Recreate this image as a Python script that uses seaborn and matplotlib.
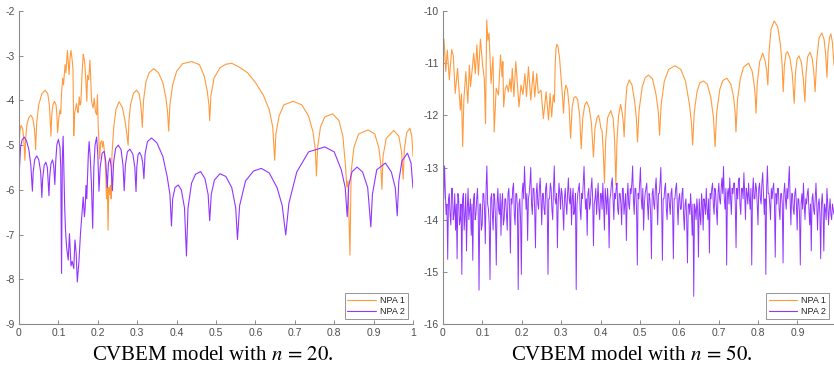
import numpy as np
import pandas as pd
import matplotlib
matplotlib.use("Agg")
import matplotlib.pyplot as plt
import seaborn as sns

sns.set_theme(style="white")
plt.rcParams["font.family"] = ["Liberation Sans", "DejaVu Sans"]
plt.rcParams["mathtext.fontset"] = "stix"

# ---------------- data: n = 20 ----------------
n20_npa1_x = [0.000, 0.002, 0.005, 0.009, 0.012, 0.015, 0.017, 0.020, 0.025, 0.030, 0.035, 0.039, 0.041, 0.042,
              0.045, 0.050, 0.058, 0.066, 0.073, 0.077, 0.079, 0.081, 0.083, 0.086, 0.090, 0.094, 0.096, 0.098,
              0.101, 0.104, 0.106, 0.108, 0.111, 0.113, 0.117, 0.119, 0.123, 0.125, 0.127, 0.130, 0.132, 0.135,
              0.137, 0.139, 0.141, 0.143, 0.146, 0.148, 0.150, 0.153, 0.155, 0.157, 0.160, 0.163, 0.165, 0.167,
              0.170, 0.172, 0.174, 0.177, 0.180, 0.182, 0.184, 0.186, 0.188, 0.191, 0.194, 0.197, 0.199, 0.201,
              0.205, 0.207, 0.210, 0.212, 0.214, 0.217, 0.220, 0.222, 0.224, 0.226, 0.228, 0.230, 0.232, 0.234,
              0.236, 0.240, 0.246, 0.254, 0.262, 0.268, 0.273, 0.277,
              0.279, 0.283, 0.290, 0.298, 0.305, 0.309, 0.311, 0.313,
              0.316, 0.322, 0.330, 0.342, 0.354, 0.365, 0.373, 0.377, 0.380,
              0.383, 0.390, 0.400, 0.415, 0.438, 0.458, 0.470, 0.478, 0.482, 0.484,
              0.487, 0.495, 0.510, 0.525, 0.540, 0.560, 0.580, 0.600, 0.620, 0.635, 0.644, 0.649,
              0.652, 0.660, 0.672, 0.696, 0.718, 0.735, 0.746, 0.752, 0.755,
              0.758, 0.765, 0.776, 0.796, 0.812, 0.822, 0.829, 0.832, 0.835, 0.840,
              0.843, 0.850, 0.862, 0.886, 0.903, 0.913, 0.918, 0.921,
              0.924, 0.932, 0.951, 0.964, 0.971, 0.975,
              0.978, 0.984, 0.992, 0.997, 1.000]
n20_npa1_y = [-5.10, -4.70, -4.56, -4.62, -4.85, -5.34, -4.85, -4.55, -4.38, -4.33, -4.40, -4.62, -4.85, -5.10,
              -4.50, -4.10, -3.85, -3.77, -3.85, -4.10, -4.40, -4.80, -4.35, -4.10, -4.02, -4.10, -4.30, -4.72,
              -4.40, -4.21, -4.30, -3.83, -3.50, -3.65, -3.20, -3.38, -2.88, -3.15, -3.42, -3.00, -2.88, -3.10,
              -3.30, -4.79, -4.30, -4.20, -4.07, -4.20, -4.27, -3.92, -4.10, -4.05, -3.40, -2.97, -3.05, -3.17,
              -3.60, -4.02, -3.44, -3.54, -3.10, -3.50, -4.00, -4.10, -4.17, -3.95, -4.25, -4.32, -3.87, -4.58,
              -5.31, -4.95, -4.90, -5.05, -4.92, -5.15, -5.60, -6.20, -5.80, -6.90, -5.95, -6.10, -5.90, -6.20,
              -5.20, -4.65, -4.20, -4.03, -4.15, -4.40, -4.70, -5.00,
              -4.45, -4.10, -3.85, -3.77, -3.85, -4.10, -4.30, -4.60,
              -4.00, -3.60, -3.38, -3.29, -3.38, -3.60, -3.95, -4.25, -4.69,
              -4.10, -3.65, -3.35, -3.18, -3.13, -3.20, -3.45, -3.80, -4.10, -4.45,
              -3.90, -3.50, -3.27, -3.19, -3.17, -3.26, -3.38, -3.60, -3.88, -4.20, -4.60, -5.34,
              -4.75, -4.35, -4.10, -4.02, -4.10, -4.35, -4.70, -5.10, -5.69,
              -5.05, -4.60, -4.37, -4.30, -4.45, -4.80, -5.50, -5.93, -5.80, -7.46,
              -5.60, -5.05, -4.75, -4.66, -4.75, -5.05, -5.40, -5.99,
              -5.25, -4.85, -4.67, -4.80, -5.15, -5.76,
              -5.10, -4.72, -4.62, -4.80, -5.25]

n20_npa2_x = [0.000, 0.004, 0.008, 0.0135, 0.019, 0.025, 0.030, 0.034,
              0.036, 0.040, 0.045, 0.050, 0.055, 0.058,
              0.060, 0.064, 0.068, 0.072, 0.076,
              0.078, 0.081, 0.085, 0.088, 0.091,
              0.093, 0.096, 0.100, 0.104, 0.106, 0.108,
              0.110, 0.112, 0.114, 0.116, 0.118, 0.121, 0.125, 0.128, 0.132, 0.135, 0.139, 0.142, 0.145, 0.148,
              0.152, 0.156, 0.160, 0.163, 0.166, 0.168, 0.170, 0.172, 0.174, 0.176, 0.178, 0.181, 0.184, 0.187,
              0.190, 0.193, 0.197, 0.200, 0.203,
              0.206, 0.211, 0.216, 0.220, 0.224, 0.227, 0.231, 0.234, 0.237,
              0.240, 0.245, 0.252, 0.259, 0.264, 0.267,
              0.270, 0.275, 0.2815, 0.289, 0.294, 0.297,
              0.299, 0.302, 0.306, 0.311, 0.314, 0.317,
              0.320, 0.326, 0.3365, 0.350, 0.365, 0.376, 0.383, 0.387,
              0.390, 0.396, 0.404, 0.412, 0.420, 0.425,
              0.429, 0.438, 0.448, 0.461, 0.472, 0.480, 0.484,
              0.488, 0.496, 0.510, 0.525, 0.540, 0.550, 0.5545,
              0.560, 0.575, 0.595, 0.615, 0.635, 0.655, 0.668, 0.677,
              0.685, 0.705, 0.735, 0.776, 0.800, 0.818, 0.828, 0.833,
              0.837, 0.845, 0.858, 0.872, 0.885, 0.893,
              0.897, 0.908, 0.930, 0.945, 0.955, 0.960,
              0.964, 0.972, 0.986, 0.995, 1.000]
n20_npa2_y = [-5.70, -5.05, -4.88, -4.82, -4.90, -5.10, -5.45, -6.03,
              -5.60, -5.32, -5.24, -5.32, -5.60, -6.17,
              -5.75, -5.45, -5.38, -5.50, -6.13,
              -5.70, -5.42, -5.33, -5.45, -5.88,
              -5.40, -5.00, -4.87, -5.05, -5.50, -7.87,
              -5.30, -4.80, -5.60, -6.40, -6.90, -7.30, -7.57, -6.98, -7.70, -7.60, -7.76, -7.12, -7.40, -8.06,
              -7.62, -6.98, -6.50, -6.16, -6.60, -6.40, -5.90, -6.20, -5.72, -5.20, -4.92, -5.30, -5.90, -6.86,
              -5.50, -5.00, -4.82, -5.20, -6.03,
              -5.50, -5.18, -5.14, -5.35, -5.95, -5.40, -5.29, -5.50, -6.02,
              -5.40, -5.08, -5.00, -5.10, -5.45, -6.02,
              -5.45, -5.15, -5.09, -5.20, -5.50, -6.04,
              -5.50, -5.22, -5.16, -5.25, -5.40, -5.75,
              -5.20, -4.92, -4.84, -4.95, -5.25, -5.70, -6.10, -6.81,
              -6.20, -5.95, -5.89, -6.00, -6.40, -7.48,
              -6.40, -5.85, -5.65, -5.59, -5.75, -6.10, -6.69,
              -6.10, -5.78, -5.64, -5.70, -5.95, -6.40, -7.11,
              -6.35, -5.80, -5.58, -5.52, -5.62, -5.95, -6.35, -7.01,
              -6.30, -5.60, -5.15, -5.04, -5.15, -5.55, -5.95, -6.60,
              -5.90, -5.60, -5.49, -5.60, -5.95, -6.83,
              -6.10, -5.55, -5.40, -5.60, -5.95, -6.58,
              -5.80, -5.35, -5.18, -5.40, -5.96]

# ---------------- data: n = 50 ----------------
n50_npa1_x = [0.000, 0.0025, 0.007, 0.011, 0.016, 0.022, 0.026, 0.031, 0.037, 0.044, 0.047, 0.050, 0.053, 0.058,
              0.063, 0.067, 0.070, 0.078, 0.082, 0.086, 0.090, 0.095, 0.101, 0.105, 0.108, 0.111, 0.114, 0.117,
              0.122, 0.127, 0.130, 0.135, 0.141, 0.146, 0.150, 0.152, 0.154, 0.158, 0.162, 0.166, 0.170, 0.173,
              0.176, 0.180, 0.185, 0.189, 0.193, 0.198, 0.203, 0.208, 0.212, 0.217, 0.223, 0.229, 0.233, 0.238,
              0.242, 0.249, 0.255, 0.262, 0.268, 0.272, 0.276, 0.280, 0.283,
              0.285, 0.287, 0.289, 0.292, 0.296, 0.300, 0.304, 0.306,
              0.309, 0.312, 0.316, 0.320, 0.324,
              0.328, 0.332, 0.337, 0.342, 0.347, 0.351,
              0.355, 0.360, 0.365, 0.371, 0.377, 0.382,
              0.386, 0.391, 0.395, 0.398, 0.401, 0.404, 0.407, 0.410,
              0.413, 0.418, 0.426, 0.432, 0.436, 0.439,
              0.442, 0.446, 0.451, 0.455, 0.458, 0.460,
              0.463, 0.467, 0.473, 0.480, 0.487, 0.491, 0.494,
              0.498, 0.506, 0.514, 0.522, 0.532, 0.541, 0.547, 0.550,
              0.554, 0.562, 0.573, 0.589, 0.604, 0.616, 0.626, 0.631, 0.634,
              0.638, 0.645, 0.652, 0.661, 0.671, 0.680, 0.687, 0.691,
              0.695, 0.703, 0.711, 0.721, 0.731, 0.738, 0.742, 0.744,
              0.748, 0.755, 0.763, 0.776, 0.785, 0.791, 0.793, 0.795,
              0.798, 0.804, 0.812, 0.818, 0.822, 0.825,
              0.828, 0.833, 0.841, 0.850, 0.857, 0.861, 0.864,
              0.867, 0.871, 0.875, 0.881, 0.887, 0.892,
              0.895, 0.899, 0.904, 0.910, 0.915, 0.919,
              0.922, 0.926, 0.932, 0.938, 0.942, 0.945,
              0.949, 0.955, 0.962, 0.968, 0.972, 0.975,
              0.978, 0.982, 0.985, 0.989, 0.993]
n50_npa1_y = [-10.75, -10.54, -11.16, -10.75, -11.32, -10.74, -10.85, -11.58, -11.10, -11.90, -11.59, -12.60, -11.70, -11.16,
              -11.77, -11.04, -11.45, -10.81, -11.20, -10.65, -11.23, -10.54, -11.07, -11.30, -12.16, -10.17, -10.56, -10.43,
              -11.39, -10.88, -12.32, -11.48, -11.61, -10.84, -11.26, -10.97, -11.84, -11.50, -11.42, -11.55, -11.30, -11.55,
              -11.10, -11.64, -10.97, -11.40, -11.84, -11.42, -11.60, -11.20, -11.64, -11.07, -11.71, -11.16, -11.65, -11.20,
              -11.58, -11.52, -12.06, -11.55, -12.09, -11.58, -12.03, -11.61, -11.75,
              -11.00, -10.72, -10.64, -10.68, -10.90, -11.30, -11.70, -11.96,
              -11.55, -11.42, -11.50, -11.80, -12.44,
              -11.85, -11.67, -11.64, -11.70, -12.00, -12.64,
              -12.05, -11.80, -11.74, -11.85, -12.15, -12.80,
              -12.25, -12.05, -12.00, -12.10, -12.25, -12.30, -12.70, -13.30,
              -12.50, -12.05, -11.91, -12.05, -12.50, -13.34,
              -12.45, -12.00, -11.79, -11.95, -12.15, -12.41,
              -11.85, -11.45, -11.32, -11.42, -11.75, -12.05, -12.51,
              -11.90, -11.45, -11.27, -11.23, -11.30, -11.60, -11.95, -12.38,
              -11.80, -11.35, -11.12, -11.05, -11.12, -11.35, -11.80, -12.15, -12.57,
              -11.95, -11.55, -11.38, -11.34, -11.40, -11.65, -12.05, -12.60,
              -11.95, -11.50, -11.33, -11.29, -11.40, -11.65, -11.95, -12.32,
              -11.70, -11.30, -11.08, -11.00, -11.15, -11.45, -11.65, -11.96,
              -11.40, -10.98, -10.81, -10.95, -11.15, -11.42,
              -10.80, -10.35, -10.19, -10.30, -10.65, -11.00, -11.55,
              -11.05, -10.82, -10.78, -10.90, -11.20, -11.77,
              -11.20, -10.92, -10.86, -10.98, -11.30, -11.74,
              -11.20, -10.88, -10.79, -10.92, -11.20, -11.55,
              -10.95, -10.52, -10.42, -10.55, -10.85, -11.27,
              -10.75, -10.50, -10.44, -10.60, -11.04]

n50_npa2_y = [
    -13.30, -13.60, -12.97, -13.50, -13.90, -13.70, -14.76, -13.60, -13.50, -13.90, -14.10, -13.40, -13.40, -14.00, -13.90, -13.50, -14.20, -13.70, -14.75, -13.50,
    -13.60, -14.10, -14.00, -13.70, -15.05, -13.60, -13.50, -14.20, -13.90, -13.50, -14.60, -13.80, -13.40, -14.00, -13.80, -13.60, -14.30, -13.70, -14.78, -13.60,
    -13.50, -14.00, -13.90, -13.60, -13.40, -13.90, -15.35, -13.70, -13.70, -14.20, -14.10, -13.50, -13.50, -13.80, -14.46, -13.40, -12.97, -13.70, -13.80, -14.10,
    -15.15, -13.60, -13.50, -13.90, -14.20, -13.50, -13.60, -14.00, -14.87, -13.70, -13.40, -13.80, -13.90, -13.50, -14.30, -13.70, -13.50, -14.10, -14.00, -13.60,
    -13.60, -13.90, -14.20, -13.50, -13.40, -13.80, -14.64, -13.60, -13.70, -13.40, -13.30, -13.90, -14.10, -13.50, -13.50, -13.80, -15.34, -13.70, -13.60, -14.00,
    -15.05, -13.50, -13.30, -13.60, -12.98, -13.40, -13.80, -13.50, -14.40, -13.60, -13.50, -13.30, -13.00, -13.70, -13.90, -13.40, -13.40, -13.80, -14.54, -13.50,
    -13.30, -13.70, -13.80, -13.40, -13.20, -13.60, -14.10, -13.50, -13.50, -13.80, -13.90, -13.40, -13.30, -13.70, -15.05, -13.60, -13.60, -13.30, -13.40, -13.80,
    -14.00, -13.40, -12.97, -13.60, -13.70, -13.50, -14.54, -13.70, -13.30, -13.50, -13.80, -13.40, -13.50, -13.80, -14.20, -13.60, -13.40, -13.70, -13.90, -13.50,
    -13.20, -13.60, -13.70, -13.40, -14.10, -13.60, -13.40, -13.90, -13.80, -13.50, -15.34, -13.70, -13.50, -13.40, -13.30, -13.80, -14.00, -13.50, -13.60, -13.30,
    -12.98, -13.50, -13.80, -13.60, -14.30, -13.50, -13.40, -13.80, -13.70, -13.40, -13.20, -13.60, -14.50, -13.70, -13.60, -13.40, -13.90, -13.60, -13.30, -13.80,
    -14.00, -13.50, -13.50, -13.80, -13.30, -13.70, -14.20, -13.40, -13.60, -13.90, -13.40, -13.70, -14.54, -13.60, -13.50, -13.30, -13.20, -13.60, -14.00, -13.50,
    -13.60, -13.40, -13.30, -13.80, -13.90, -13.50, -13.50, -13.70, -14.10, -13.40, -13.40, -13.90, -13.70, -13.50, -14.40, -13.60, -13.30, -13.70, -13.80, -13.40,
    -13.50, -13.30, -12.97, -13.60, -13.90, -13.40, -13.40, -13.80, -14.87, -13.50, -13.60, -13.30, -13.00, -13.60, -13.80, -13.40, -14.20, -13.70, -13.50, -13.40,
    -13.30, -13.70, -14.00, -13.50, -13.60, -13.90, -14.75, -13.50, -13.40, -13.70, -13.80, -13.40, -13.20, -13.60, -14.10, -13.50, -13.50, -13.30, -13.00, -13.70,
    -14.78, -13.60, -13.60, -13.40, -13.30, -13.80, -14.00, -13.50, -13.50, -13.70, -13.90, -13.50, -13.40, -13.80, -14.75, -13.60, -13.60, -13.40, -13.30, -13.70,
    -14.10, -13.60, -13.50, -13.80, -13.80, -13.50, -13.40, -13.90, -14.20, -13.70, -13.60, -14.00, -14.83, -13.70, -13.70, -13.90, -13.50, -13.80, -14.30, -13.70,
    -15.47, -13.70, -13.80, -14.00, -13.60, -13.80, -14.72, -13.60, -13.90, -14.10, -13.50, -13.70, -14.20, -13.60, -13.70, -13.90, -13.40, -13.80, -14.00, -13.60,
    -14.64, -13.50, -13.60, -13.40, -13.30, -13.70, -13.90, -13.40, -13.50, -13.80, -14.10, -13.50, -13.30, -13.60, -13.70, -13.40, -13.20, -13.50, -12.98, -13.60,
    -13.80, -13.40, -14.87, -13.50, -13.40, -13.70, -13.20, -13.60, -13.90, -13.40, -13.50, -13.30, -13.30, -13.70, -14.54, -13.40, -13.60, -13.30, -13.20, -13.70,
    -13.90, -13.40, -13.40, -13.60, -13.10, -13.50, -14.00, -13.40, -13.50, -13.70, -13.30, -13.60, -13.80, -13.40, -14.87, -13.50, -13.20, -13.60, -13.60, -13.30,
    -13.40, -13.70, -14.10, -13.40, -13.30, -13.60, -13.70, -13.30, -13.10, -13.50, -13.90, -13.60, -15.05, -13.40, -12.97, -13.50, -13.50, -13.70, -14.00, -13.40,
    -13.60, -13.40, -13.30, -13.70, -14.72, -13.50, -13.70, -13.40, -13.40, -13.80, -14.00, -13.50, -13.50, -13.70, -14.83, -13.50, -13.30, -13.60, -13.80, -13.40,
    -13.60, -13.30, -12.98, -13.60, -14.10, -13.50, -13.50, -13.80, -13.90, -13.50, -13.40, -13.70, -14.20, -13.60, -13.60, -13.90, -14.87, -13.70, -13.50, -13.80,
    -13.30, -13.70, -14.00, -13.60, -13.70, -13.50, -13.40, -13.80, -14.10, -13.70, -14.60, -13.60, -13.50, -13.80, -13.90, -13.60, -13.30, -13.70, -14.20, -13.70,
    -13.60, -13.90, -14.75, -13.70, -13.50, -13.80, -14.60, -13.70, -13.80, -14.00, -13.40, -13.70, -14.10, -13.80, -13.60, -13.90, -14.00, -13.70, -13.80, -13.90]
n50_npa2_x = list(np.linspace(0.0, 0.993, len(n50_npa2_y)))

legend_labels = ["NPA 1", "NPA 2"]
captions = [r"CVBEM model with $n\,=\,20$.", r"CVBEM model with $n\,=\,50$."]
left_yticks = [-9, -8, -7, -6, -5, -4, -3, -2]
right_yticks = [-16, -15, -14, -13, -12, -11, -10]
left_xticks = [0, 0.1, 0.2, 0.3, 0.4, 0.5, 0.6, 0.7, 0.8, 0.9, 1]
left_xlabels = ["0", "0.1", "0.2", "0.3", "0.4", "0.5", "0.6", "0.7", "0.8", "0.9", "1"]
right_xticks = [0, 0.1, 0.2, 0.3, 0.4, 0.5, 0.6, 0.7, 0.8, 0.9]
right_xlabels = ["0", "0.1", "0.2", "0.3", "0.4", "0.5", "0.6", "0.7", "0.8", "0.9"]

ORANGE = "#FF9B3F"
PURPLE = "#9236FF"
AX_COL = "#8a8a8a"
TXT_COL = "#4d4d4d"

W, H = 834, 373
fig = plt.figure(figsize=(W / 100, H / 100), dpi=100)
ax1 = fig.add_axes([19 / W, 1 - 324 / H, (413 - 19) / W, (324 - 11) / H])
ax2 = fig.add_axes([443 / W, 1 - 324 / H, (834 - 443) / W, (324 - 11) / H])

def draw(ax, x1, y1, x2, y2, xlim, ylim, yt, xt, xl, lw2):
    sns.lineplot(x=x1, y=y1, ax=ax, color=ORANGE, lw=0.8, sort=False, estimator=None, label=legend_labels[0])
    sns.lineplot(x=x2, y=y2, ax=ax, color=PURPLE, lw=lw2, sort=False, estimator=None, label=legend_labels[1])
    ax.set_xlim(*xlim)
    ax.set_ylim(*ylim)
    ax.set_yticks(yt)
    ax.set_yticklabels([str(v) for v in yt])
    ax.set_xticks(xt)
    ax.set_xticklabels(xl)
    ax.set_xlabel("")
    ax.set_ylabel("")
    for s in ["top", "right"]:
        ax.spines[s].set_visible(False)
    for s in ["left", "bottom"]:
        ax.spines[s].set_color(AX_COL)
        ax.spines[s].set_linewidth(0.8)
    ax.tick_params(direction="in", length=3, width=0.7, color=AX_COL, labelsize=7.5,
                   labelcolor=TXT_COL, pad=3, left=True, bottom=True)
    ax.patch.set_alpha(0)
    leg = ax.legend(loc="lower right", fontsize=6.5, frameon=True, fancybox=False,
                    handlelength=3.2, handletextpad=0.4, borderpad=0.3, labelspacing=0.2,
                    borderaxespad=0.6)
    leg.get_frame().set_edgecolor("#7a7a7a")
    leg.get_frame().set_linewidth(0.7)
    for line in leg.get_lines():
        line.set_linewidth(0.8)
    for t in leg.get_texts():
        t.set_color("#222222")

draw(ax1, n20_npa1_x, n20_npa1_y, n20_npa2_x, n20_npa2_y, (0, 1), (-9, -2),
     left_yticks, left_xticks, left_xlabels, 0.8)
draw(ax2, n50_npa1_x, n50_npa1_y, n50_npa2_x, n50_npa2_y, (0, 0.993), (-16, -10),
     right_yticks, right_xticks, right_xlabels, 0.7)

fig.text(213 / W, 1 - 355 / H, captions[0], ha="center", va="center", fontsize=15,
         family="Liberation Serif", color="black")
fig.text(632 / W, 1 - 355 / H, captions[1], ha="center", va="center", fontsize=15,
         family="Liberation Serif", color="black")

fig.savefig("out.png", dpi=100, facecolor="white")
